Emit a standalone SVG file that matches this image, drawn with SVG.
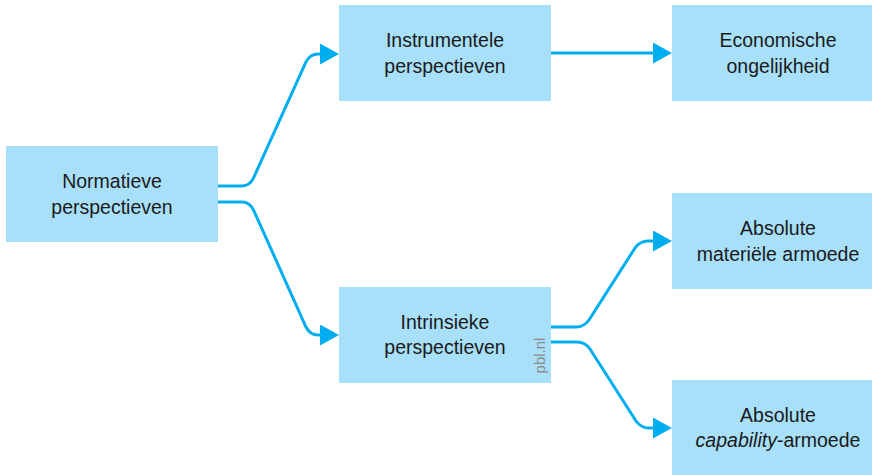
<svg xmlns="http://www.w3.org/2000/svg" width="872" height="475" viewBox="0 0 872 475">
  <style>
    .box { fill: #A8DFF9; }
    .lbl { font-family: "Liberation Sans", Arial, sans-serif; font-size: 19.5px; fill: #1a1a1a; text-anchor: middle; }
    .conn { fill: none; stroke: #00AEEF; stroke-width: 3; marker-end: url(#arrow); }
    .wm { font-family: "Liberation Sans", Arial, sans-serif; font-size: 15px; fill: #8a8a8a; text-anchor: middle; }
  </style>
  <defs>
    <marker id="arrow" markerUnits="userSpaceOnUse" markerWidth="19" markerHeight="21" refX="10" refY="10.5" orient="auto">
      <path d="M0,0 L19,10.5 L0,21 Z" fill="#00AEEF"/>
    </marker>
  </defs>
  <rect width="872" height="475" fill="#ffffff"/>

  <g id="connectors">
    <path class="conn" d="M218,186 H242 Q250,186 254,177 L306,62 Q310,54 318,54 H330"/>
    <path class="conn" d="M218,202 H242 Q250,202 254,211 L306,327 Q310,335 318,335 H330"/>
    <path class="conn" d="M550,53 H663"/>
    <path class="conn" d="M551,327 H576 Q584,327 589,320 L635,248 Q640,241 648,241 H663"/>
    <path class="conn" d="M551,342 H577 Q585,342 590,349 L636,421 Q641,428 649,428 H663"/>
  </g>

  <g id="node-normatieve">
    <rect class="box" x="6" y="146" width="212" height="96"/>
    <text class="lbl" x="112" y="188">Normatieve</text>
    <text class="lbl" x="112" y="213.5">perspectieven</text>
  </g>

  <g id="node-instrumentele">
    <rect class="box" x="339" y="5" width="212" height="96"/>
    <text class="lbl" x="445" y="47">Instrumentele</text>
    <text class="lbl" x="445" y="73">perspectieven</text>
  </g>

  <g id="node-economische">
    <rect class="box" x="672" y="5" width="212" height="96"/>
    <text class="lbl" x="778" y="47">Economische</text>
    <text class="lbl" x="778" y="73">ongelijkheid</text>
  </g>

  <g id="node-intrinsieke">
    <rect class="box" x="339" y="287" width="212" height="96"/>
    <text class="lbl" x="445" y="328.5">Intrinsieke</text>
    <text class="lbl" x="445" y="354">perspectieven</text>
    <text class="wm" transform="translate(545,355.5) rotate(-90)">pbl.nl</text>
  </g>

  <g id="node-materiele">
    <rect class="box" x="672" y="193" width="212" height="96"/>
    <text class="lbl" x="778" y="235">Absolute</text>
    <text class="lbl" x="778" y="260.5">materiële armoede</text>
  </g>

  <g id="node-capability">
    <rect class="box" x="672" y="380" width="212" height="96"/>
    <text class="lbl" x="778" y="422">Absolute</text>
    <text class="lbl" x="778" y="447"><tspan font-style="italic">capability</tspan>-armoede</text>
  </g>
</svg>
